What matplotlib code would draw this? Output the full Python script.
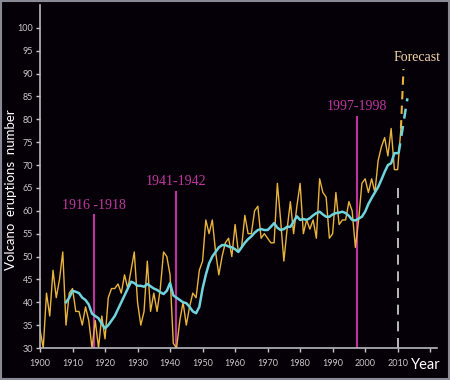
import matplotlib
matplotlib.use("Agg")
import matplotlib.pyplot as plt
from matplotlib.patches import Rectangle

# annual counts 1900-2011
years = list(range(1900, 2012))
counts = [34, 30, 42, 37, 47, 41, 45, 51, 35, 42,
          43, 38, 38, 35, 39, 36, 30, 36, 30, 37,
          32, 41, 43, 43, 44, 42, 46, 43, 47, 51,
          40, 35, 38, 49, 38, 42, 38, 43, 51, 50,
          46, 31, 30, 36, 40, 35, 39, 42, 41, 47,
          49, 58, 55, 58, 51, 46, 50, 53, 54, 50,
          57, 51, 52, 59, 55, 55, 60, 61, 54, 55,
          54, 53, 53, 66, 58, 49, 56, 62, 55, 61,
          66, 55, 58, 56, 58, 54, 67, 64, 63, 54,
          55, 64, 57, 58, 58, 62, 60, 52, 58, 66,
          67, 64, 67, 64, 71, 74, 76, 72, 78, 69,
          69, 78]

# smoothed curve 1908-2010
smooth_years = list(range(1908, 2011))
smooth = [40, 41, 42.5, 42.3, 42, 41, 40.5, 39.5, 37.5, 37,
          36.5, 35.3, 34.3, 35, 36, 37, 38.5, 40, 41.5, 43,
          44.5, 44.2, 43.6, 43.6, 43.4, 44, 43.5, 43, 42.7, 42.2,
          41.8, 42.5, 44.2, 41.5, 41, 40.5, 40, 39.8, 39, 38,
          37.6, 39, 43, 46, 48.5, 50, 51, 52, 52.5, 52.5,
          52.2, 52, 51.6, 51, 52, 53, 53.8, 54.4, 55.2, 55.8,
          56, 55.8, 55.8, 56.5, 57.3, 56.3, 55.8, 56, 56.5, 56.5,
          57.6, 58.8, 58, 58.2, 58, 58.4, 59, 59.5, 59.8, 59.2,
          58.7, 58.7, 59.2, 59.5, 59.6, 59.8, 59.5, 58.9, 58, 57.9,
          58.3, 58.7, 59.8, 61.5, 62.8, 64, 65.2, 66.8, 68.5, 70,
          70.4, 72.6, 72.6]

# forecasts
fc_years = [2011, 2011.8]
fc_counts = [78, 91]
fc_smooth_years = [2010.3, 2013]
fc_smooth = [72.6, 84.6]

# marked periods
event_x = [1916.5, 1941.7, 1997.5]
event_top = [59, 64.2, 80.6]
event_labels = ['1916 -1918', '1941-1942', '1997-1998']

xticks = list(range(1900, 2030, 10))
xlabels = [str(y) for y in range(1900, 2020, 10)] + ['']
yticks = list(range(30, 105, 5))

bg = '#050008'
fig = plt.figure(figsize=(4.5, 3.8), dpi=100, facecolor=bg)
fig.patches.append(Rectangle((0.003, 0.003), 0.994, 0.994, transform=fig.transFigure,
                             fill=False, edgecolor='#8a8a96', linewidth=1.5))
ax = fig.add_axes([40 / 450, 1 - 348 / 380, 397 / 450, 343 / 380])
ax.set_facecolor(bg)

for x, top in zip(event_x, event_top):
    ax.plot([x, x], [30, top], color='#c0309f', lw=1.5, zorder=1)
for x, top, lab in zip(event_x, event_top, event_labels):
    ax.text(x, top + 0.8, lab, color='#c0389f', fontsize=10, family='Liberation Serif',
            ha='center', va='bottom')

ax.plot([2010, 2010], [30, 66], color='#d8d8d8', lw=1.2, dashes=(6, 4), zorder=1)

ax.plot(years, counts, color='#e8b43c', lw=1.0, zorder=2)
ax.plot(fc_years, fc_counts, color='#e8b43c', lw=1.5, dashes=(4, 3), zorder=2)
ax.plot(smooth_years, smooth, color='#6fd4dc', lw=1.8, zorder=3)
ax.plot(fc_smooth_years, fc_smooth, color='#6fd4dc', lw=1.8, dashes=(4, 3), zorder=3)

ax.text(2016, 93.5, 'Forecast', color='#f5d6a8', fontsize=10, family='Liberation Serif',
        ha='center', va='center')

ax.set_xlim(1900, 2022.1)
ax.set_ylim(30, 105)
ax.set_xticks(xticks)
ax.set_xticklabels(xlabels)
ax.set_yticks(yticks)
ax.tick_params(colors='#c8c8c8', labelsize=6.5, length=3, width=1, direction='out')
ax.tick_params(axis='y', pad=2)
ax.tick_params(axis='x', pad=5)
for lab in ax.get_xticklabels() + ax.get_yticklabels():
    lab.set_family('Lato')
for s in ['top', 'right']:
    ax.spines[s].set_visible(False)
for s in ['left', 'bottom']:
    ax.spines[s].set_color('#b8b8c0')
    ax.spines[s].set_linewidth(1.2)

fig.text(11 / 450, 1 - 190 / 380, 'Volcano  eruptions  number', rotation=90, color='white',
         fontsize=9.5, family='Lato', ha='center', va='center')
fig.text(426 / 450, 1 - 365 / 380, 'Year', color='white', fontsize=10.5, family='Lato',
         ha='center', va='center')

fig.savefig('out.png', dpi=100, facecolor=bg)
